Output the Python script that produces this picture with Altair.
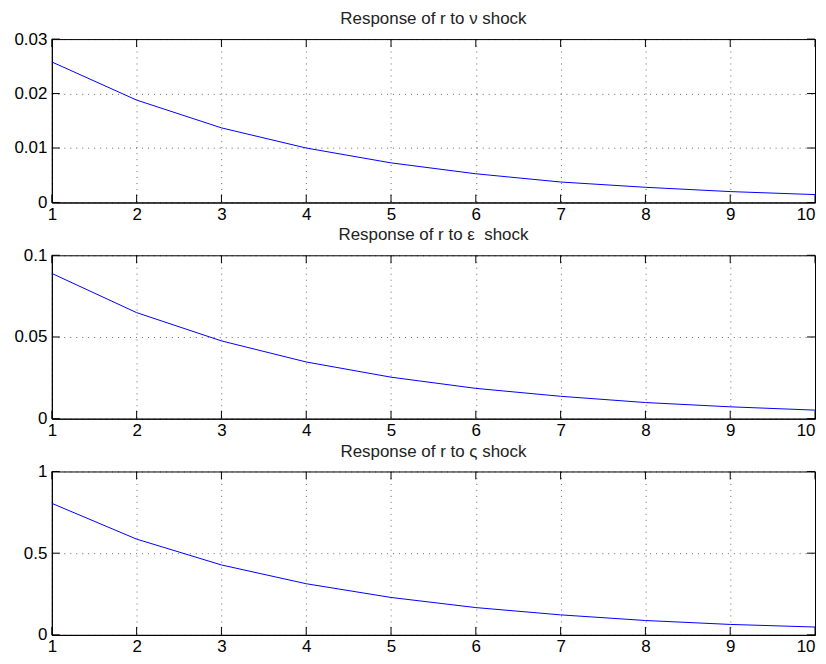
import altair as alt
import pandas as pd

periods = [1, 2, 3, 4, 5, 6, 7, 8, 9, 10]
r_nu = [0.0258, 0.0188, 0.0137, 0.0100, 0.00727, 0.00527, 0.00376, 0.00279, 0.00200, 0.00145]
r_eps = [0.0889, 0.0649, 0.0476, 0.0347, 0.0254, 0.01855, 0.0137, 0.00988, 0.00726, 0.00524]
r_zeta = [0.805, 0.586, 0.428, 0.313, 0.229, 0.167, 0.1225, 0.088, 0.064, 0.048]

titles = ["Response of r to \u03bd shock", "Response of r to \u03b5\u00a0 shock", "Response of r to \u03c2 shock"]
yticks_nu = [0, 0.01, 0.02, 0.03]
yticks_eps = [0, 0.05, 0.1]
yticks_zeta = [0, 0.5, 1]

W = 766
H = 164
TL = 8
FONT = "Liberation Sans"
FS = 17


def panel(values, yticks, title):
    df = pd.DataFrame({"period": periods, "r": values})
    xscale = alt.Scale(domain=[periods[0], periods[-1]], nice=False, zero=False)
    yscale = alt.Scale(domain=[yticks[0], yticks[-1]], nice=False, zero=False)
    xaxis = alt.Axis(values=periods, format="d", title=None, ticks=False, grid=True,
                     labelPadding=4, labelFlush=False,
                     labelAlign={"condition": {"test": "datum.value >= 10", "value": "right"},
                                 "value": "center"})
    yaxis = alt.Axis(values=yticks, format="~g", title=None, ticks=False, grid=True,
                     labelPadding=5)
    line = alt.Chart(df).mark_line(color="#0000ff", strokeWidth=1).encode(
        x=alt.X("period:Q", scale=xscale, axis=xaxis),
        y=alt.Y("r:Q", scale=yscale, axis=yaxis),
    )
    xt = pd.DataFrame({"period": periods})
    yt = pd.DataFrame({"r": yticks})
    xb = alt.Chart(xt).mark_rule(color="black", strokeWidth=1).encode(
        x=alt.X("period:Q", scale=xscale, axis=xaxis), y=alt.value(H - TL), y2=alt.value(H))
    xtop = alt.Chart(xt).mark_rule(color="black", strokeWidth=1).encode(
        x=alt.X("period:Q", scale=xscale, axis=xaxis), y=alt.value(0), y2=alt.value(TL))
    yl = alt.Chart(yt).mark_rule(color="black", strokeWidth=1).encode(
        y=alt.Y("r:Q", scale=yscale, axis=yaxis), x=alt.value(0), x2=alt.value(TL))
    yr = alt.Chart(yt).mark_rule(color="black", strokeWidth=1).encode(
        y=alt.Y("r:Q", scale=yscale, axis=yaxis), x=alt.value(W - TL), x2=alt.value(W))
    ttl = alt.Chart(pd.DataFrame({"title": [title]})).mark_text(
        font=FONT, fontSize=FS, color="#222222", align="center", baseline="alphabetic"
    ).encode(text="title:N", x=alt.value(W / 2), y=alt.value(-15))
    return alt.layer(xb, xtop, yl, yr, line, ttl).properties(width=W, height=H)


chart = alt.vconcat(
    panel(r_nu, yticks_nu, titles[0]),
    panel(r_eps, yticks_eps, titles[1]),
    panel(r_zeta, yticks_zeta, titles[2]),
    spacing=53, bounds="flush",
).properties(
    padding={"left": 5, "top": 0, "right": 0, "bottom": 0},
).configure_view(
    stroke="black", strokeWidth=1
).configure_axis(
    labelFont=FONT, labelFontSize=FS, labelColor="black",
    domainColor="black", domainWidth=1,
    gridColor="#000000", gridOpacity=0.6, gridDash=[1, 5], gridWidth=1,
)

chart.save("out.html", embed_options={"renderer": "svg", "actions": False})
